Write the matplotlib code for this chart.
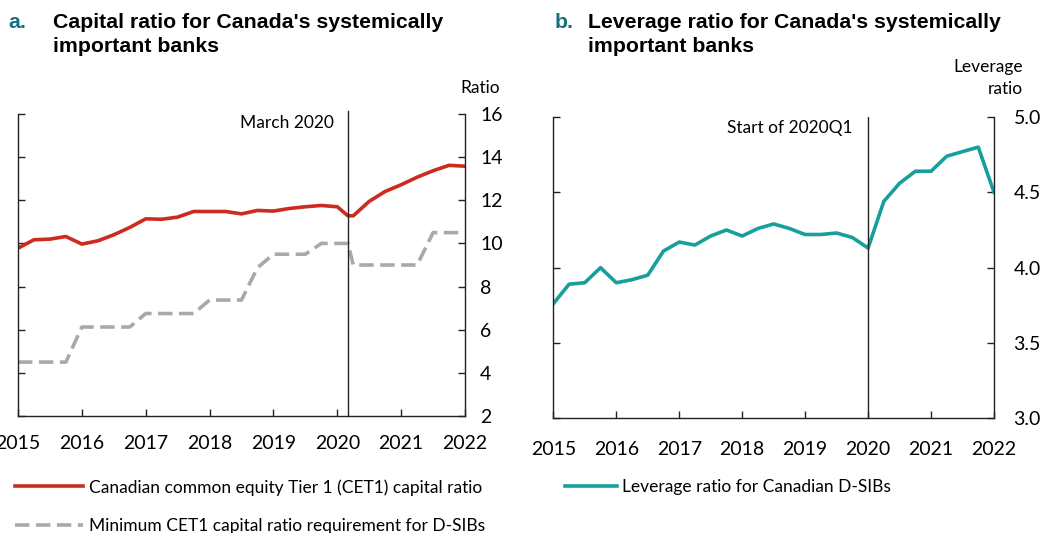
import numpy as np
import matplotlib
matplotlib.use('Agg')
import matplotlib.pyplot as plt

plt.rcParams["font.family"] = ["Lato", "DejaVu Sans"]

# panel a: capital ratios (fractional years)
cet1_x = [2015.0, 2015.25, 2015.5, 2015.75, 2016.0, 2016.25, 2016.5, 2016.75,
          2017.0, 2017.25, 2017.5, 2017.75, 2018.0, 2018.25, 2018.5, 2018.75,
          2019.0, 2019.25, 2019.5, 2019.75, 2020.0, 2020.167, 2020.25, 2020.5,
          2020.75, 2021.0, 2021.25, 2021.5, 2021.75, 2022.0]
cet1 = [9.78, 10.17, 10.2, 10.32, 9.97, 10.12, 10.4, 10.74,
        11.14, 11.12, 11.22, 11.48, 11.48, 11.48, 11.37, 11.53,
        11.5, 11.62, 11.7, 11.76, 11.7, 11.28, 11.28, 11.95,
        12.41, 12.72, 13.07, 13.37, 13.62, 13.58]

min_x = [2015.0, 2015.25, 2015.5, 2015.75, 2016.0, 2016.25, 2016.5, 2016.75,
         2017.0, 2017.25, 2017.5, 2017.75, 2018.0, 2018.25, 2018.5, 2018.75,
         2019.0, 2019.25, 2019.5, 2019.75, 2020.0, 2020.167, 2020.25, 2020.5,
         2020.75, 2021.0, 2021.25, 2021.5, 2021.75, 2021.917]
min_req = [4.5, 4.5, 4.5, 4.5, 6.125, 6.125, 6.125, 6.125,
           6.75, 6.75, 6.75, 6.75, 7.375, 7.375, 7.375, 8.875,
           9.5, 9.5, 9.5, 10.0, 10.0, 10.0, 9.0, 9.0,
           9.0, 9.0, 9.0, 10.5, 10.5, 10.5]

# panel b: leverage ratio, quarterly
lev_x = np.arange(2015.0, 2022.01, 0.25)
lev = [3.76, 3.89, 3.90, 4.0, 3.90, 3.92, 3.95, 4.11, 4.17, 4.15, 4.21, 4.25,
       4.21, 4.26, 4.29, 4.26, 4.22, 4.22, 4.23, 4.20, 4.13, 4.44, 4.56, 4.64,
       4.64, 4.74, 4.77, 4.80, 4.50]

years = list(range(2015, 2023))
red = '#cc2b1f'
grey = '#a9a9a9'
teal = '#17a09b'
title_teal = '#17707c'
tick_fs = 14
lab_fs = 12.5

fig = plt.figure(figsize=(10.51, 5.33), dpi=100)
ax1 = fig.add_axes([18/1051, 1-416/533, (465-18)/1051, (416-114)/533])
ax2 = fig.add_axes([553.3/1051, 1-418.3/533, (994-553.3)/1051, (418.3-117)/533])

def style(ax, ypad, xpad):
    ax.spines['top'].set_visible(False)
    for s in ['left', 'right', 'bottom']:
        ax.spines[s].set_linewidth(1.0)
        ax.spines[s].set_color('#222222')
    ax.set_xlim(2015, 2022)
    ax.set_xticks(years)
    ax.tick_params(axis='x', direction='in', length=5, width=1, pad=xpad,
                   labelsize=tick_fs, color='#222222')
    ax.tick_params(axis='y', direction='in', length=5, width=1, left=True,
                   right=True, labelleft=False, labelright=True, pad=ypad,
                   labelsize=tick_fs, color='#222222')

# panel a
ax1.plot(cet1_x, cet1, color=red, lw=2.6, solid_joinstyle='round',
         label='Canadian common equity Tier 1 (CET1) capital ratio')
ax1.plot(min_x, min_req, color=grey, lw=2.6, dashes=(4, 1.8),
         label='Minimum CET1 capital ratio requirement for D-SIBs')
ax1.axvline(2020.167, color='#222222', lw=1.0, ymax=1.01, clip_on=False)
ax1.set_ylim(2, 16)
ax1.set_yticks([2, 4, 6, 8, 10, 12, 14, 16])
style(ax1, 11, 14)
ax1.text(2019.95, 15.6, 'March 2020', ha='right', va='center', fontsize=lab_fs)
ax1.text(480/1051, 1-88/533, 'Ratio', transform=fig.transFigure,
         ha='center', va='center', fontsize=lab_fs)

# panel b
ax2.plot(lev_x, lev, color=teal, lw=2.6, label='Leverage ratio for Canadian D-SIBs')
ax2.axvline(2020.0, color='#222222', lw=1.0)
ax2.set_ylim(3.0, 5.0)
ax2.set_yticks([3.0, 3.5, 4.0, 4.5, 5.0])
ax2.set_yticklabels(['3.0', '3.5', '4.0', '4.5', '5.0'])
style(ax2, 14, 16)
ax2.text(2019.75, 4.93, 'Start of 2020Q1', ha='right', va='center', fontsize=lab_fs)
ax2.text(1022.7/1051, 1-78/533, 'Leverage\nratio', transform=fig.transFigure,
         ha='right', va='center', fontsize=lab_fs, linespacing=1.45)

# titles
tkw = dict(transform=fig.transFigure, fontsize=15.3, fontweight='bold',
           family=['Liberation Sans', 'DejaVu Sans'], va='baseline')
fig.text(8/1051, 1-28/533, 'a.', color=title_teal, **tkw)
fig.text(53/1051, 1-28/533, "Capital ratio for Canada's systemically", **tkw)
fig.text(53/1051, 1-52/533, 'important banks', **tkw)
fig.text(555/1051, 1-28/533, 'b.', color=title_teal, **tkw)
fig.text(588/1051, 1-28/533, "Leverage ratio for Canada's systemically", **tkw)
fig.text(588/1051, 1-52/533, 'important banks', **tkw)

# legends
h1, l1 = ax1.get_legend_handles_labels()
fig.legend(h1, l1, loc='upper left', bbox_to_anchor=(15/1051, 1-479/533),
           frameon=False, fontsize=lab_fs, handlelength=3.9, handletextpad=0.35,
           labelspacing=1.3, borderaxespad=0, borderpad=0)
h2, l2 = ax2.get_legend_handles_labels()
fig.legend(h2, l2, loc='upper left', bbox_to_anchor=(565/1051, 1-479/533),
           frameon=False, fontsize=lab_fs, handlelength=3.0, handletextpad=0.3,
           borderaxespad=0, borderpad=0)

plt.savefig('out.png', dpi=100)
